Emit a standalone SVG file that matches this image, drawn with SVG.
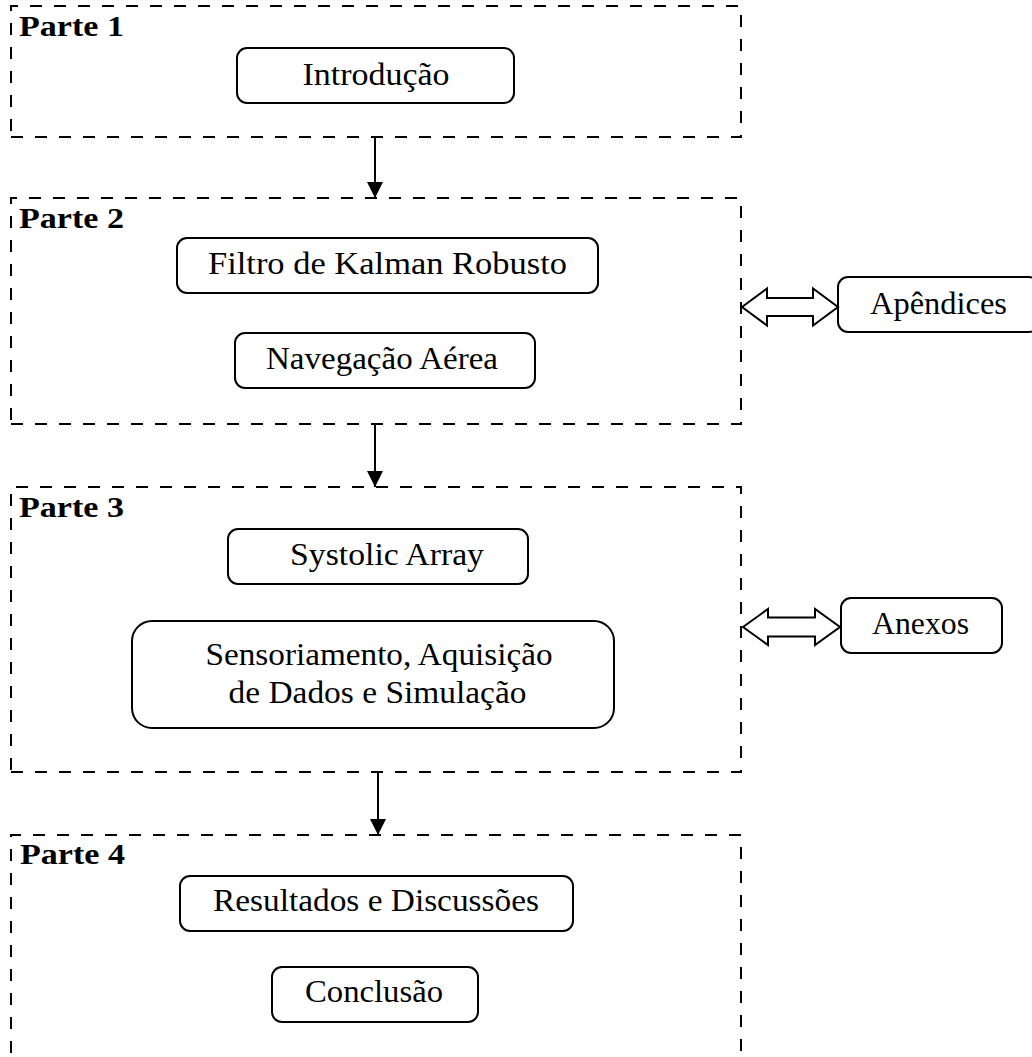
<svg xmlns="http://www.w3.org/2000/svg" width="1032" height="1057" viewBox="0 0 1032 1057">
<style>
.part{fill:none;stroke:#000;stroke-width:2;stroke-dasharray:12 12}
.node{fill:#fff;stroke:#000;stroke-width:2}
.t{font-family:"Liberation Serif","Times New Roman",serif;font-size:31px;fill:#000;text-anchor:middle}
.lbl{font-family:"Liberation Serif","Times New Roman",serif;font-size:29px;font-weight:bold;fill:#000}
.conn{stroke:#000;stroke-width:2;fill:none}
.darrow{fill:#fff;stroke:#000;stroke-width:2;stroke-linejoin:miter}
</style>
<defs>
<marker id="ah" markerUnits="userSpaceOnUse" markerWidth="18" markerHeight="18" refX="16" refY="8" orient="auto" viewBox="0 0 18 16">
<path d="M0,0 L16,8 L0,16 Z" fill="#000"/>
</marker>
</defs>
<rect width="1032" height="1057" fill="#fff"/>

<g id="parte1">
<path class="part" d="M11,137 H741 V6 H11 Z"/>
<text class="lbl" x="19" y="36" textLength="105" lengthAdjust="spacingAndGlyphs">Parte 1</text>
</g>
<g id="parte2">
<path class="part" d="M11,424 H741 V198 H11 Z"/>
<text class="lbl" x="19" y="228" textLength="105" lengthAdjust="spacingAndGlyphs">Parte 2</text>
</g>
<g id="parte3">
<path class="part" d="M11,772 H741 V487 H11 Z"/>
<text class="lbl" x="19" y="517" textLength="105" lengthAdjust="spacingAndGlyphs">Parte 3</text>
</g>
<g id="parte4">
<path class="part" d="M741,1075 V835 H11 V1075"/>
<text class="lbl" x="20" y="864" textLength="105" lengthAdjust="spacingAndGlyphs">Parte 4</text>
</g>

<g id="introducao">
<rect class="node" x="237" y="48" width="277" height="55" rx="10"/>
<text class="t" x="376" y="85" textLength="147" lengthAdjust="spacingAndGlyphs">Introdução</text>
</g>
<g id="filtro">
<rect class="node" x="177" y="238" width="421" height="55" rx="10"/>
<text class="t" x="387.5" y="274" textLength="359" lengthAdjust="spacingAndGlyphs">Filtro de Kalman Robusto</text>
</g>
<g id="navegacao">
<rect class="node" x="235" y="333" width="300" height="55" rx="10"/>
<text class="t" x="382" y="369" textLength="232" lengthAdjust="spacingAndGlyphs">Navegação Aérea</text>
</g>
<g id="systolic">
<rect class="node" x="228" y="529" width="300" height="55" rx="10"/>
<text class="t" x="387" y="565" textLength="194" lengthAdjust="spacingAndGlyphs">Systolic Array</text>
</g>
<g id="sensoriamento">
<rect class="node" x="132" y="621" width="482" height="107" rx="20"/>
<text class="t" x="379" y="665" textLength="347" lengthAdjust="spacingAndGlyphs">Sensoriamento, Aquisição</text>
<text class="t" x="377.5" y="703" textLength="298" lengthAdjust="spacingAndGlyphs">de Dados e Simulação</text>
</g>
<g id="resultados">
<rect class="node" x="180" y="876" width="393" height="55" rx="10"/>
<text class="t" x="376" y="911" textLength="326" lengthAdjust="spacingAndGlyphs">Resultados e Discussões</text>
</g>
<g id="conclusao">
<rect class="node" x="272" y="967" width="206" height="55" rx="10"/>
<text class="t" x="374" y="1002" textLength="138" lengthAdjust="spacingAndGlyphs">Conclusão</text>
</g>
<g id="apendices">
<rect class="node" x="838" y="277" width="201" height="55" rx="10"/>
<text class="t" x="938.5" y="314" textLength="137" lengthAdjust="spacingAndGlyphs">Apêndices</text>
</g>
<g id="anexos">
<rect class="node" x="841" y="598" width="161" height="55" rx="10"/>
<text class="t" x="920.5" y="634" textLength="97" lengthAdjust="spacingAndGlyphs">Anexos</text>
</g>

<g id="connectors">
<line class="conn" x1="375" y1="137" x2="375" y2="198" marker-end="url(#ah)"/>
<line class="conn" x1="375" y1="424" x2="375" y2="487" marker-end="url(#ah)"/>
<line class="conn" x1="378" y1="772" x2="378" y2="835" marker-end="url(#ah)"/>
<polygon class="darrow" points="742,307 767,288.5 767,298 813,298 813,288.5 838,307 813,325.5 813,316 767,316 767,325.5"/>
<polygon class="darrow" points="743,627 768,609 768,617.5 815,617.5 815,609 840,627 815,645 815,636.5 768,636.5 768,645"/>
</g>
</svg>
